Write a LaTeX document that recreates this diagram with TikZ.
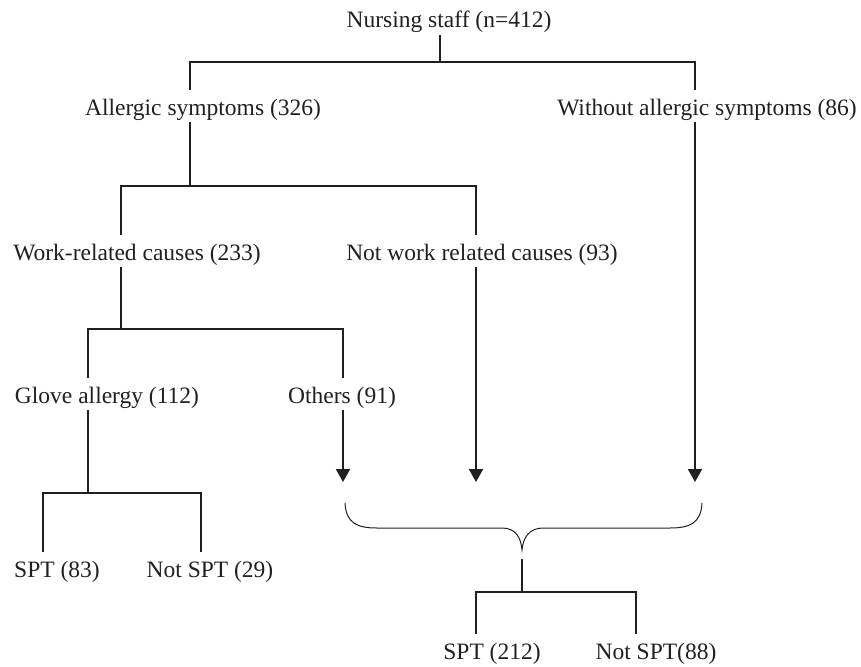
\documentclass[tikz,border=0pt]{standalone}
\usepackage{fontspec}
\setmainfont{Liberation Serif}
\usetikzlibrary{arrows.meta}
\definecolor{ink}{HTML}{231F20}

\begin{document}
\begin{tikzpicture}[x=1pt,y=-1pt,
  lbl/.style={anchor=base,inner xsep=0pt,inner ysep=2pt,text height=23pt,text depth=5pt,text=ink,font=\fontsize{23.5}{28}\selectfont},
  wire/.style={ink,line width=2pt},
  flow/.style={wire,-{Triangle[length=13pt,width=14pt]}},
  brace/.style={ink,line width=1pt}]
\useasboundingbox (0,0) rectangle (861,666);
\node[lbl] (nurse) at (449,28) {Nursing staff (n=412)};
\node[lbl] (allergic) at (203,115) {Allergic symptoms (326)};
\node[lbl] (without) at (707,115) {Without allergic symptoms (86)};
\node[lbl] (work) at (137,260) {Work-related causes (233)};
\node[lbl] (notwork) at (482,260) {Not work related causes (93)};
\node[lbl] (glove) at (107,403) {Glove allergy (112)};
\node[lbl] (others) at (342,403) {Others (91)};
\node[lbl] (spta) at (57,577) {SPT (83)};
\node[lbl] (nspta) at (210,577) {Not SPT (29)};
\node[lbl] (sptb) at (492,659) {SPT (212)};
\node[lbl] (nsptb) at (656,659) {Not SPT(88)};
\coordinate (n0) at (440,62);
\coordinate (b1L) at (190,62); \coordinate (b1R) at (695,62);
\coordinate (b2L) at (121,186); \coordinate (b2) at (190,186); \coordinate (b2R) at (476,186);
\coordinate (b3L) at (88,329); \coordinate (b3) at (121,329); \coordinate (b3R) at (343,329);
\coordinate (b4L) at (43,493); \coordinate (b4) at (88,493); \coordinate (b4R) at (201,493);
\coordinate (tip) at (0,482);
\coordinate (brL) at (345,503); \coordinate (brR) at (702,503); \coordinate (brT) at (522,550);
\coordinate (b5L) at (476,592); \coordinate (b5) at (522,592); \coordinate (b5R) at (636,592);
\draw[wire] (n0 |- nurse.south) -- (n0);
\draw[wire] (b1L |- allergic.north) -- (b1L) -- (b1R) -- (b1R |- without.north);
\draw[wire] (b1L |- allergic.south) -- (b2);
\draw[wire] (b2L |- work.north) -- (b2L) -- (b2R) -- (b2R |- notwork.north);
\draw[wire] (b2L |- work.south) -- (b3);
\draw[wire] (b3L |- glove.north) -- (b3L) -- (b3R) -- (b3R |- others.north);
\draw[wire] (b3L |- glove.south) -- (b4);
\draw[wire] (b4L |- spta.north) -- (b4L) -- (b4R) -- (b4R |- nspta.north);
\draw[flow] (b3R |- others.south) -- (b3R |- tip);
\draw[flow] (b2R |- notwork.south) -- (b2R |- tip);
\draw[flow] (b1R |- without.south) -- (b1R |- tip);
\draw[brace] (brL) .. controls +(1,20) and +(-20,0) .. ++(32,25) -- ++(125,0) .. controls +(14,0) and +(-1,-12) .. (brT) .. controls +(1,-12) and +(-14,0) .. ++(21,-22) -- ++(127,0) .. controls +(20,0) and +(-1,20) .. (brR);
\draw[wire] (brT) ++(0,9) -- (b5);
\draw[wire] (b5L |- sptb.north) -- (b5L) -- (b5R) -- (b5R |- nsptb.north);
\end{tikzpicture}
\end{document}
